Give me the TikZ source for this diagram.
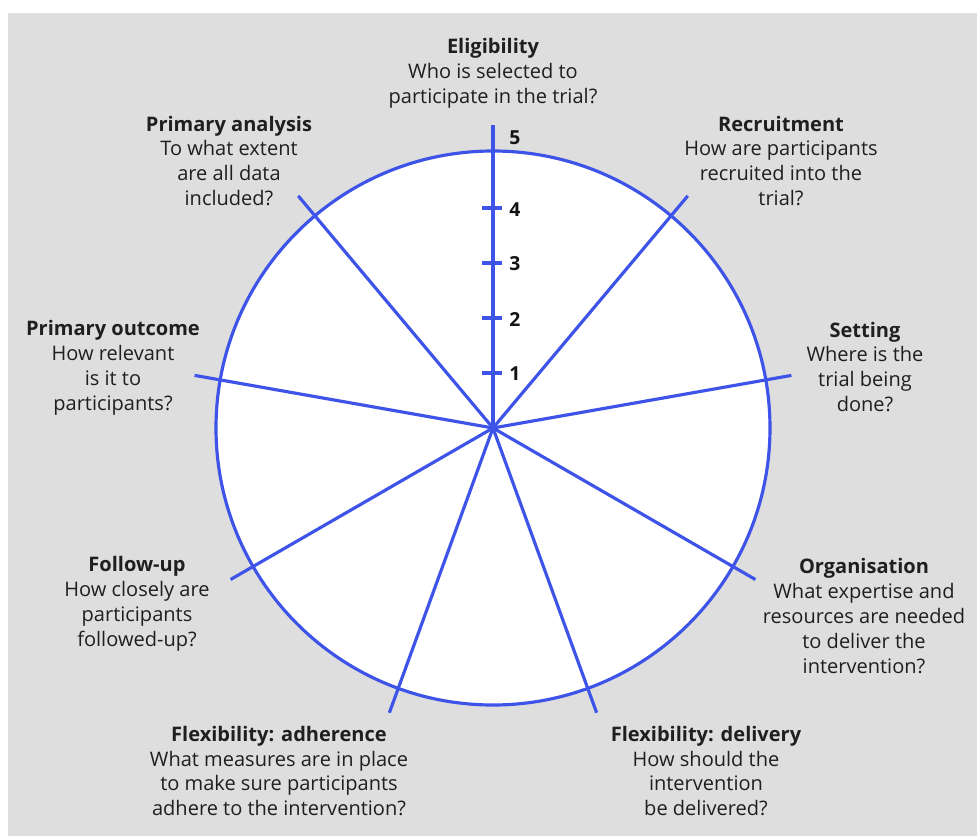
\documentclass[tikz,border=0pt]{standalone}
\usepackage{fontspec}
\setmainfont{Open Sans}
\usepackage{xcolor}
\definecolor{wheelBlue}{RGB}{62,84,232}
\definecolor{panelGrey}{RGB}{222,222,222}
\newcommand*\critText[2]{%
	\textbf{#1}\\#2%
}
\usepackage{tikz}
\usetikzlibrary{positioning}

\begin{document}
\begin{tikzpicture}[
	spoke/.style = { draw = wheelBlue, line width = 1.8pt },
	crit/.style = { align = center, text = black!88, font = \fontsize{11.4}{14.2}\selectfont, inner sep = 0pt, outer sep = 0pt },
	score/.style = { text = black!92, font = \fontsize{11}{12}\selectfont\bfseries, inner sep = 0pt },
	]
	\def\oneUnit{0.02cm}
	
	\useasboundingbox (-493*\oneUnit,-408*\oneUnit) rectangle (484*\oneUnit,428*\oneUnit);
	\fill[panelGrey] (-485*\oneUnit,-408*\oneUnit) rectangle (484*\oneUnit,415*\oneUnit);
	
	\coordinate (CENTRE) at (0,0);
	\filldraw[fill = white, spoke] (CENTRE) circle (277*\oneUnit);
	
	\coordinate (ELIG) at (90:{303*\oneUnit});
	\coordinate (RECR) at (50:{303*\oneUnit});
	\coordinate (SETT) at (10:{303*\oneUnit});
	\coordinate (ORGA) at (-30:{303*\oneUnit});
	\coordinate (FDEL) at (-70:{303*\oneUnit});
	\coordinate (FADH) at (-110:{303*\oneUnit});
	\coordinate (FOLL) at (-150:{303*\oneUnit});
	\coordinate (POUT) at (170:{303*\oneUnit});
	\coordinate (PANA) at (130:{303*\oneUnit});
	
	\coordinate (T1l) at (-11*\oneUnit,55*\oneUnit);
	\coordinate (T1r) at (9*\oneUnit,55*\oneUnit);
	\coordinate (T2l) at (-11*\oneUnit,110*\oneUnit);
	\coordinate (T2r) at (9*\oneUnit,110*\oneUnit);
	\coordinate (T3l) at (-11*\oneUnit,165*\oneUnit);
	\coordinate (T3r) at (9*\oneUnit,165*\oneUnit);
	\coordinate (T4l) at (-11*\oneUnit,220*\oneUnit);
	\coordinate (T4r) at (9*\oneUnit,220*\oneUnit);
	
	\node[score] (S1) at (22*\oneUnit,54*\oneUnit) {1};
	\node[score] (S2) at (22*\oneUnit,109*\oneUnit) {2};
	\node[score] (S3) at (22*\oneUnit,164*\oneUnit) {3};
	\node[score] (S4) at (22*\oneUnit,218*\oneUnit) {4};
	\node[score] (S5) at (22*\oneUnit,290*\oneUnit) {5};
	
	\node[crit] (ELIGtext) at (0*\oneUnit,355*\oneUnit) {\critText{Eligibility}{Who is selected to\\participate in the trial?}};
	\node[crit] (RECRtext) at (288*\oneUnit,267*\oneUnit) {\critText{Recruitment}{How are participants\\recruited into the\\trial?}};
	\node[crit] (SETTtext) at (372*\oneUnit,61*\oneUnit) {\critText{Setting}{Where is the\\trial being\\done?}};
	\node[crit] (ORGAtext) at (371*\oneUnit,-188*\oneUnit) {\critText{Organisation}{What expertise and\\resources are needed\\to deliver the\\intervention?}};
	\node[crit] (FDELtext) at (213*\oneUnit,-343*\oneUnit) {\critText{Flexibility: delivery}{How should the\\intervention\\be delivered?}};
	\node[crit] (FADHtext) at (-214*\oneUnit,-343*\oneUnit) {\critText{Flexibility: adherence}{What measures are in place\\to make sure participants\\adhere to the intervention?}};
	\node[crit] (FOLLtext) at (-356*\oneUnit,-176*\oneUnit) {\critText{Follow-up}{How closely are\\participants\\followed-up?}};
	\node[crit] (POUTtext) at (-380*\oneUnit,60*\oneUnit) {\critText{Primary outcome}{How relevant\\is it to\\participants?}};
	\node[crit] (PANAtext) at (-264*\oneUnit,267*\oneUnit) {\critText{Primary analysis}{To what extent\\are all data\\included?}};
	
	\path[spoke] (CENTRE) -- (ELIG);
	\path[spoke] (CENTRE) -- (RECR);
	\path[spoke] (CENTRE) -- (SETT);
	\path[spoke] (CENTRE) -- (ORGA);
	\path[spoke] (CENTRE) -- (FDEL);
	\path[spoke] (CENTRE) -- (FADH);
	\path[spoke] (CENTRE) -- (FOLL);
	\path[spoke] (CENTRE) -- (POUT);
	\path[spoke] (CENTRE) -- (PANA);
	
	\path[spoke] (T1l) -- (T1r);
	\path[spoke] (T2l) -- (T2r);
	\path[spoke] (T3l) -- (T3r);
	\path[spoke] (T4l) -- (T4r);
	
\end{tikzpicture}
\end{document}
